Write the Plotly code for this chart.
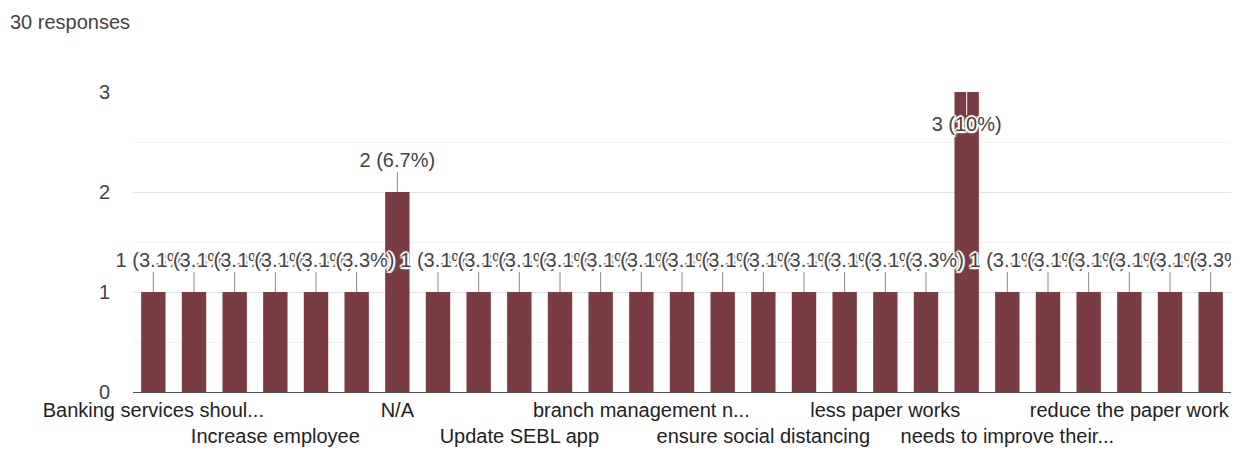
import plotly.graph_objects as go

# Answers in the order the summary lists them; only every third one is labelled on the axis.
axis_labels = [
    "Banking services shoul...", "", "",
    "Increase employee", "", "",
    "N/A", "", "",
    "Update SEBL app", "", "",
    "branch management n...", "", "",
    "ensure social distancing", "", "",
    "less paper works", "", "",
    "needs to improve their...", "", "",
    "reduce the paper work", "", "",
]
counts = [1, 1, 1, 1, 1, 1, 2, 1, 1, 1, 1, 1, 1, 1, 1, 1, 1, 1, 1, 1, 3, 1, 1, 1, 1, 1, 1]
y_ticks = [0, 1, 2, 3]

total = sum(counts)
positions = list(range(len(counts)))
ymax = max(y_ticks)

BAR = "#7a3c43"
FONT = "Arial, Liberation Sans, sans-serif"
HALO = ("white 2px 0px 1px, white -2px 0px 1px, white 0px 2px 1px, white 0px -2px 1px, "
        "white 1.5px 1.5px 1px, white -1.5px -1.5px 1px, white 1.5px -1.5px 1px, white -1.5px 1.5px 1px")


def value_label(c):
    pct = round(c / total * 100, 1)
    return f"{c} ({pct:g}%)"


labels = [value_label(c) for c in counts]

# Label placement: above the bar, or tucked inside when the bar reaches the top of the axis.
STEM = 0.2
GAP = 0.3
label_y, stem_end, stem_color = [], [], []
for c in counts:
    if c >= ymax:
        label_y.append(c - 0.34)
        stem_end.append(c - 0.23)
        stem_color.append("white")
    else:
        label_y.append(c + GAP)
        stem_end.append(c + STEM)
        stem_color.append("#8a8a8a")

# Alternate the axis labels between two rows so they do not collide.
tickvals, ticktext = [], []
row = 0
for i, lab in enumerate(axis_labels):
    if lab:
        tickvals.append(i)
        ticktext.append(lab if row % 2 == 0 else "<br>" + lab)
        row += 1

fig = go.Figure()
fig.add_trace(go.Bar(
    x=positions, y=counts, marker=dict(color=BAR, line=dict(width=0)),
    hoverinfo="skip", showlegend=False,
))

last = len(counts) - 1
fig.add_trace(go.Scatter(
    x=positions[:last], y=label_y[:last], text=labels[:last], mode="text",
    textposition="middle center",
    textfont=dict(family=FONT, size=20, color="#444444", shadow=HALO),
    cliponaxis=False, hoverinfo="skip", showlegend=False,
))
fig.add_trace(go.Scatter(
    x=positions[last:], y=label_y[last:], text=labels[last:], mode="text",
    textposition="middle center",
    textfont=dict(family=FONT, size=20, color="#444444", shadow=HALO),
    cliponaxis=True, hoverinfo="skip", showlegend=False,
))

shapes = []
for x, c, e, col in zip(positions, counts, stem_end, stem_color):
    shapes.append(dict(type="line", xref="x", yref="y", x0=x, x1=x, y0=c, y1=e,
                       line=dict(color=col, width=1)))

fig.update_layout(
    width=1248, height=454,
    margin=dict(l=133, r=17, t=92, b=62),
    paper_bgcolor="white", plot_bgcolor="white",
    bargap=0.4,
    font=dict(family=FONT, size=20, color="#333333"),
    shapes=shapes,
    title=dict(text="30 responses", x=10 / 1248, xanchor="left", xref="container",
               y=1 - 22 / 454, yanchor="middle", yref="container",
               font=dict(family=FONT, size=20, color="#444444")),
)
fig.update_xaxes(
    range=[-0.5, len(counts) - 0.5],
    tickmode="array", tickvals=tickvals, ticktext=ticktext, tickangle=0,
    tickfont=dict(family=FONT, size=20, color="#222222"),
    showgrid=False, zeroline=False, ticks="", automargin=False,
    showline=True, linecolor="#555555", linewidth=1,
)
fig.update_yaxes(
    range=[0, ymax], tickmode="array", tickvals=y_ticks,
    tickfont=dict(family=FONT, size=20, color="#444444"),
    showgrid=True, gridcolor="#e3e3e3", gridwidth=1,
    minor=dict(dtick=0.5, showgrid=True, gridcolor="#f3f3f3", gridwidth=1),
    zeroline=False, ticks="", ticklabelstandoff=22, automargin=False,
)

fig.write_html("out.html")
